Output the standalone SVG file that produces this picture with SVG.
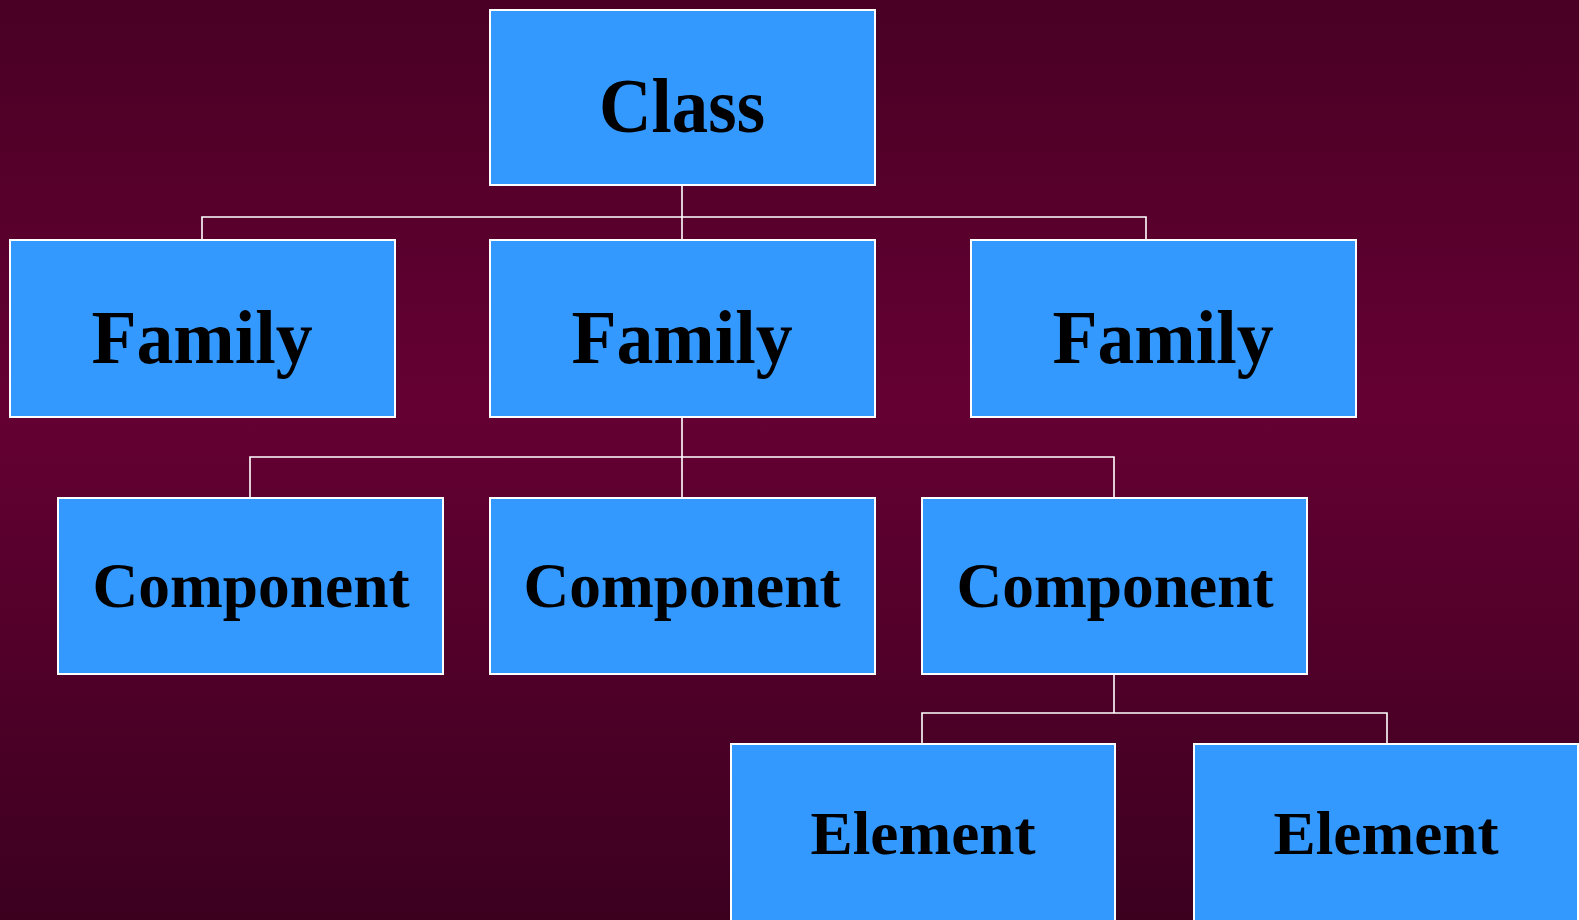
<svg xmlns="http://www.w3.org/2000/svg" width="1579" height="920" viewBox="0 0 1579 920">
<defs>
<linearGradient id="bg" x1="0" y1="0" x2="0" y2="1">
<stop offset="0" stop-color="#490024"/>
<stop offset="0.44" stop-color="#650033"/>
<stop offset="1" stop-color="#3c001f"/>
</linearGradient>
<style>
.box{fill:#3399ff;stroke:#ffffff;stroke-width:2}
.lbl{font-family:"Liberation Serif","Times New Roman",serif;font-weight:bold;fill:#000000;text-anchor:middle}
.con{fill:none;stroke:#ffffff;stroke-width:1.6}
</style>
</defs>
<rect x="0" y="0" width="1579" height="920" fill="url(#bg)"/>
<g id="connectors">
<path class="con" d="M682,185 V217 M202,240 V217 H1146 V240 M682,217 V240"/>
<path class="con" d="M682,417 V457 M250,498 V457 H1114 V498 M682,457 V498"/>
<path class="con" d="M1114,674 V713 M922,744 V713 H1387 V744"/>
</g>
<g id="class"><rect class="box" x="490" y="10" width="385" height="175"/><text class="lbl" x="682" y="132" font-size="78" textLength="166" lengthAdjust="spacingAndGlyphs">Class</text></g>
<g id="family1"><rect class="box" x="10" y="240" width="385" height="177"/><text class="lbl" x="202" y="363" font-size="76" textLength="221" lengthAdjust="spacingAndGlyphs">Family</text></g>
<g id="family2"><rect class="box" x="490" y="240" width="385" height="177"/><text class="lbl" x="682" y="363" font-size="76" textLength="221" lengthAdjust="spacingAndGlyphs">Family</text></g>
<g id="family3"><rect class="box" x="971" y="240" width="385" height="177"/><text class="lbl" x="1163" y="363" font-size="76" textLength="221" lengthAdjust="spacingAndGlyphs">Family</text></g>
<g id="component1"><rect class="box" x="58" y="498" width="385" height="176"/><text class="lbl" x="251" y="607" font-size="64" textLength="317" lengthAdjust="spacingAndGlyphs">Component</text></g>
<g id="component2"><rect class="box" x="490" y="498" width="385" height="176"/><text class="lbl" x="682" y="607" font-size="64" textLength="317" lengthAdjust="spacingAndGlyphs">Component</text></g>
<g id="component3"><rect class="box" x="922" y="498" width="385" height="176"/><text class="lbl" x="1115" y="607" font-size="64" textLength="317" lengthAdjust="spacingAndGlyphs">Component</text></g>
<g id="element1"><rect class="box" x="731" y="744" width="384" height="200"/><text class="lbl" x="923" y="854" font-size="62" textLength="225" lengthAdjust="spacingAndGlyphs">Element</text></g>
<g id="element2"><rect class="box" x="1194" y="744" width="384" height="200"/><text class="lbl" x="1386" y="854" font-size="62" textLength="225" lengthAdjust="spacingAndGlyphs">Element</text></g>
</svg>
